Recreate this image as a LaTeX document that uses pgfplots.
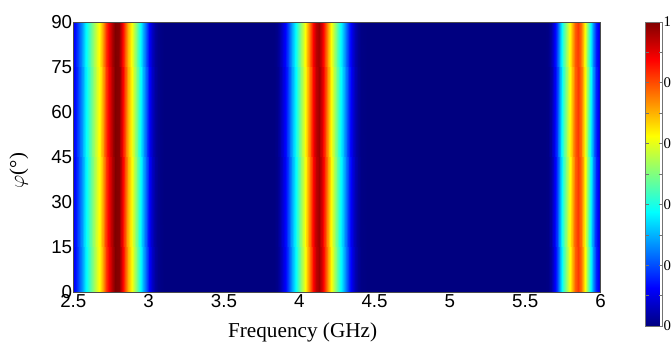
\documentclass[border=0pt]{standalone}
\usepackage{pgfplots}
\pgfplotsset{compat=1.18}
\usepackage{pgfplotstable}
\usepackage{fontspec}
\setmainfont{Liberation Sans}
\newfontfamily\tnr{Liberation Serif}

\pgfplotstableread{
f p v
2.50 0 0.11
2.50 90 0.11
2.52 0 0.15
2.52 90 0.15
2.54 0 0.21
2.54 90 0.21
2.56 0 0.27
2.56 90 0.27
2.58 0 0.35
2.58 90 0.35
2.60 0 0.41
2.60 90 0.41
2.62 0 0.47
2.62 90 0.47
2.64 0 0.53
2.64 90 0.53
2.66 0 0.59
2.66 90 0.59
2.68 0 0.64
2.68 90 0.64
2.70 0 0.72
2.70 90 0.72
2.72 0 0.82
2.72 90 0.82
2.74 0 0.89
2.74 90 0.89
2.76 0 0.95
2.76 90 0.95
2.78 0 1.00
2.78 90 1.00
2.80 0 0.99
2.80 90 0.99
2.82 0 0.90
2.82 90 0.90
2.84 0 0.80
2.84 90 0.80
2.86 0 0.70
2.86 90 0.70
2.88 0 0.64
2.88 90 0.64
2.90 0 0.56
2.90 90 0.56
2.92 0 0.48
2.92 90 0.48
2.94 0 0.39
2.94 90 0.39
2.96 0 0.30
2.96 90 0.30
2.98 0 0.22
2.98 90 0.22
3.00 0 0.13
3.00 90 0.13
3.02 0 0.07
3.02 90 0.07
3.04 0 0.03
3.04 90 0.03
3.06 0 0.01
3.06 90 0.01
3.10 0 0.00
3.10 90 0.00
3.50 0 0.00
3.50 90 0.00
3.83 0 0.00
3.83 90 0.00
3.85 0 0.01
3.85 90 0.01
3.87 0 0.04
3.87 90 0.04
3.89 0 0.09
3.89 90 0.09
3.91 0 0.14
3.91 90 0.14
3.93 0 0.21
3.93 90 0.21
3.95 0 0.29
3.95 90 0.29
3.97 0 0.36
3.97 90 0.36
3.99 0 0.44
3.99 90 0.44
4.01 0 0.52
4.01 90 0.52
4.03 0 0.59
4.03 90 0.59
4.05 0 0.68
4.05 90 0.68
4.07 0 0.77
4.07 90 0.77
4.09 0 0.87
4.09 90 0.87
4.11 0 0.94
4.11 90 0.94
4.13 0 0.97
4.13 90 0.97
4.15 0 0.91
4.15 90 0.91
4.17 0 0.82
4.17 90 0.82
4.19 0 0.72
4.19 90 0.72
4.21 0 0.63
4.21 90 0.63
4.23 0 0.55
4.23 90 0.55
4.25 0 0.47
4.25 90 0.47
4.27 0 0.39
4.27 90 0.39
4.29 0 0.32
4.29 90 0.32
4.31 0 0.24
4.31 90 0.24
4.33 0 0.16
4.33 90 0.16
4.35 0 0.10
4.35 90 0.10
4.37 0 0.05
4.37 90 0.05
4.39 0 0.02
4.39 90 0.02
4.41 0 0.005
4.41 90 0.005
4.45 0 0.00
4.45 90 0.00
5.00 0 0.00
5.00 90 0.00
5.63 0 0.00
5.63 90 0.00
5.65 0 0.005
5.65 90 0.005
5.67 0 0.03
5.67 90 0.03
5.69 0 0.10
5.69 90 0.10
5.71 0 0.18
5.71 90 0.18
5.73 0 0.30
5.73 90 0.30
5.75 0 0.42
5.75 90 0.42
5.77 0 0.51
5.77 90 0.51
5.79 0 0.60
5.79 90 0.60
5.81 0 0.69
5.81 90 0.69
5.83 0 0.78
5.83 90 0.78
5.85 0 0.82
5.85 90 0.82
5.87 0 0.77
5.87 90 0.77
5.89 0 0.66
5.89 90 0.66
5.91 0 0.53
5.91 90 0.53
5.93 0 0.40
5.93 90 0.40
5.95 0 0.27
5.95 90 0.27
5.97 0 0.16
5.97 90 0.16
5.99 0 0.10
5.99 90 0.10
6.00 0 0.08
6.00 90 0.08
}\data

\pgfplotsset{colormap={myjet}{rgb255(0cm)=(0,0,128) rgb255(1cm)=(0,0,255) rgb255(3cm)=(0,255,255) rgb255(5cm)=(255,255,0) rgb255(7cm)=(255,0,0) rgb255(8cm)=(128,0,0)}}

\begin{document}
\begin{tikzpicture}
\begin{axis}[
  scale only axis,
  width=532bp, height=273bp,
  xmin=2.5, xmax=6, ymin=0, ymax=90,
  enlargelimits=false,
  axis on top,
  xtick={2.5,3,3.5,4,4.5,5,5.5,6},
  xticklabels={2.5,3,3.5,4,4.5,5,5.5,6},
  ytick={0,15,30,45,60,75,90},
  /pgf/number format/assume math mode=true,
  tick label style={font=\fontsize{19}{22}\selectfont},
  yticklabel style={inner xsep=1bp},
  xticklabel style={inner ysep=2bp},
  major tick length=0pt,
  axis line style={line width=0.5pt, draw=black!70},
  colormap name=myjet,
  point meta min=0, point meta max=1,
  xlabel={Frequency (GHz)},
  xlabel style={font=\tnr\fontsize{21.5}{24}\selectfont, at={(axis description cs:0.435,-0.1465)}, anchor=center},
  ylabel={$\varphi$(°)},
  ylabel style={font=\tnr\fontsize{21}{24}\selectfont, at={(axis description cs:-0.1034,0.45)}, anchor=center},
  colorbar,
  colorbar style={
    at={(parent axis.north east)}, anchor=north west, xshift=37bp,
    scale only axis,
    width=17bp, height=307bp,
    ymin=0, ymax=1,
    ytick={0,0.2,0.4,0.6,0.8,1},
    yticklabels={0,0,0,0,0,1},
    minor ytick={0.1,0.3,0.5,0.7,0.9},
    yticklabel style={font=\tnr\fontsize{15}{18}\selectfont, inner xsep=1bp},
    major tick length=3bp, minor tick length=3bp,
    tick style={draw=black!55, line width=0.4pt},
    axis line style={draw=black!55, line width=0.4pt},
    tick pos=both,
  },
]
\addplot[surf, shader=interp, mesh/rows=2, mesh/ordering=y varies, point meta=\thisrow{v}] table[x=f, y=p] {\data};
\coordinate (O) at (rel axis cs:0,0);
\end{axis}
\path (O) ++(-74bp,-57bp) rectangle ++(672bp,352bp);
\end{tikzpicture}
\end{document}
